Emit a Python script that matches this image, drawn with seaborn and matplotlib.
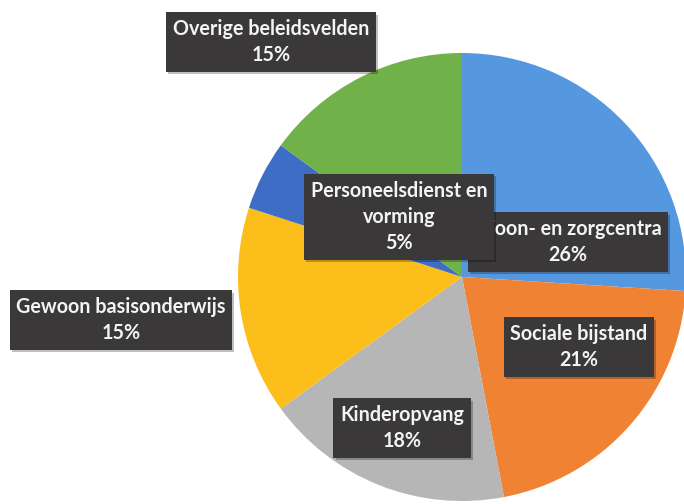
import matplotlib
matplotlib.use("Agg")
import matplotlib.pyplot as plt
import matplotlib.patheffects as pe
import seaborn as sns

# Budget shares per policy area (percent), clockwise from 12 o'clock
categories = [
    "Woon- en zorgcentra",
    "Sociale bijstand",
    "Kinderopvang",
    "Gewoon basisonderwijs",
    "Personeelsdienst en\nvorming",
    "Overige beleidsvelden",
]
shares = [26, 21, 18, 15, 5, 15]
colors = ["#5698e0", "#f08234", "#b6b6b6", "#fcbe1a", "#3e6dc6", "#70b14a"]

# Label anchor points in figure pixels (x from left, y from top)
label_pos = [(568, 242), (579, 347), (402, 428), (121, 320), (399, 217), (271, 42)]
label_order = [0, 1, 2, 3, 5, 4]  # the small slice's label is drawn on top

sns.set_theme(style="white")
plt.rcParams["font.family"] = ["Lato", "DejaVu Sans"]

W, H = 684, 504
fig = plt.figure(figsize=(W / 100, H / 100), dpi=100)
ax = fig.add_axes([0, 0, 1, 1])

ax.pie(
    shares,
    colors=colors,
    startangle=90,
    counterclock=False,
    center=(462, H - 277),
    radius=224,
    frame=True,
    wedgeprops=dict(linewidth=0),
)
ax.set_xlim(0, W)
ax.set_ylim(0, H)
ax.set_aspect("equal")
ax.axis("off")

for z, i in enumerate(label_order):
    x, y = label_pos[i]
    txt = f"{categories[i]}\n{shares[i]}%"
    t = ax.text(
        x, H - y, txt,
        ha="center", va="center", multialignment="center",
        fontsize=14.2, fontweight="bold", color="#f4f4f4",
        linespacing=1.38, zorder=5 + z,
        bbox=dict(boxstyle="square,pad=0.33", fc="#3a3838", ec="none"),
    )
    t.get_bbox_patch().set_path_effects(
        [pe.SimplePatchShadow(offset=(1.5, -1.5), shadow_rgbFace="#000000", alpha=0.25),
         pe.Normal()]
    )

fig.savefig("out.png", dpi=100)
